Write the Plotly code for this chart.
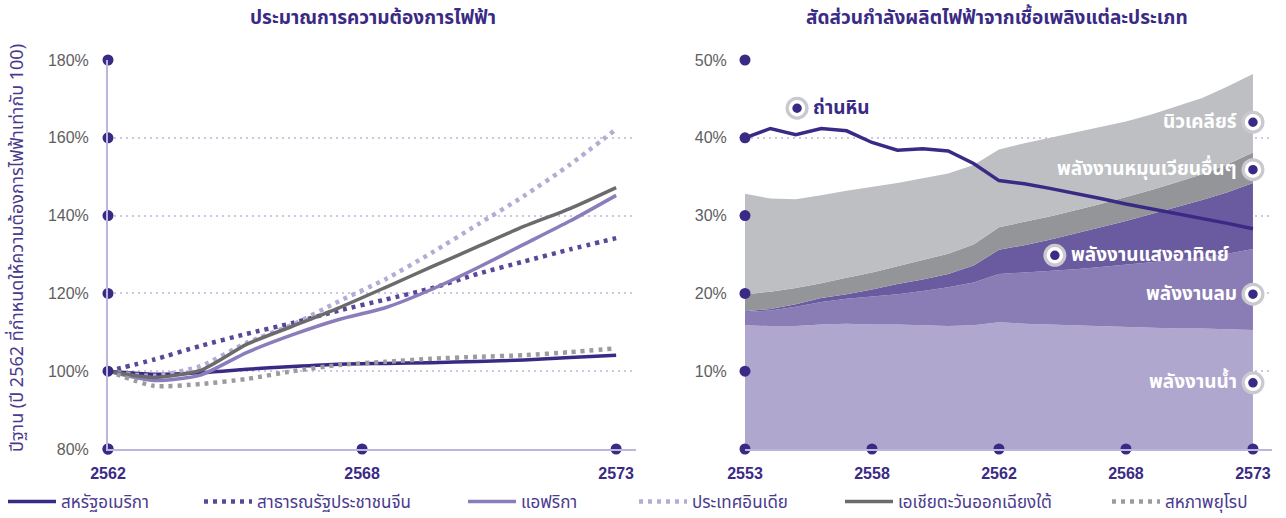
import numpy as np
import plotly.graph_objects as go

# ---------------- electricity demand outlook (index, base year 2562 = 100) ----------------
demand_years = list(range(2562, 2574))
demand_tick_labels = ["2562", "2568", "2573"]

usa = [100, 99.2, 99.6, 100.5, 101.2, 101.8, 102.0, 102.2, 102.5, 102.9, 103.5, 104.1]
china = [100, 103.0, 106.5, 109.6, 112.4, 115.6, 118.4, 121.3, 125.0, 128.2, 131.3, 134.2]
africa = [100, 97.6, 99.0, 104.8, 109.4, 113.3, 116.3, 121.0, 126.6, 132.6, 138.6, 145.2]
india = [100, 98.8, 101.3, 107.3, 112.0, 118.0, 123.6, 130.4, 137.7, 145.0, 153.1, 162.2]
se_asia = [100, 98.4, 100.2, 106.9, 111.6, 116.3, 121.5, 126.8, 132.0, 137.2, 141.8, 147.2]
europe = [100, 96.2, 96.7, 98.0, 100.0, 101.6, 102.4, 103.2, 103.7, 104.1, 104.9, 105.9]
demand_ticks = [80, 100, 120, 140, 160, 180]

# ---------------- generation capacity share by fuel (%) ----------------
share_years = list(range(2553, 2574))
share_tick_labels = ["2553", "2558", "2562", "2568", "2573"]

hydro = [15.9, 15.8, 15.8, 16.0, 16.1, 16.0, 16.0, 15.9, 15.8, 15.9, 16.3, 16.1, 16.0, 15.9, 15.8, 15.7, 15.6, 15.5, 15.5, 15.4, 15.3]
wind = [1.7, 2.0, 2.5, 2.9, 3.2, 3.6, 3.9, 4.4, 5.0, 5.5, 6.2, 6.6, 6.9, 7.2, 7.6, 8.0, 8.4, 8.8, 9.1, 9.7, 10.4]
solar = [0.1, 0.2, 0.3, 0.5, 0.6, 0.9, 1.3, 1.5, 1.7, 2.2, 3.1, 3.5, 4.0, 4.6, 5.1, 5.6, 6.2, 6.8, 7.4, 7.9, 8.5]
other_re = [2.2, 2.2, 2.1, 1.9, 2.1, 2.2, 2.3, 2.5, 2.6, 2.7, 2.9, 3.0, 3.0, 3.0, 3.0, 3.1, 3.1, 3.2, 3.3, 3.6, 3.9]
nuclear = [12.9, 12.0, 11.4, 11.3, 11.2, 11.0, 10.7, 10.5, 10.3, 10.2, 10.0, 10.1, 10.1, 10.0, 9.9, 9.7, 9.7, 9.7, 9.8, 10.0, 10.1]
coal = [40.0, 41.2, 40.4, 41.2, 40.9, 39.4, 38.4, 38.6, 38.3, 36.7, 34.5, 34.1, 33.5, 32.9, 32.2, 31.5, 30.9, 30.2, 29.6, 29.0, 28.3]
share_ticks = [0, 10, 20, 30, 40, 50]

# ---------------- styling ----------------
W, H = 1286, 518
DEEP = "#3b2a85"
AXIS = "#bdb6dc"
GRID = "#cdc7e4"
THAI = "Noto Sans Thai, Noto Sans Thai UI, Noto Sans, sans-serif"
NUM = "Liberation Sans, Arial, sans-serif"

fig = go.Figure()

# one small legend per series so that each entry sits at its own spot in the bottom row
legend_left_px = [3, 199, 463, 634, 840, 1107]

demand_series = [
    ("สหรัฐอเมริกา", usa, DEEP, "solid", 3.5),
    ("สาธารณรัฐประชาชนจีน", china, "#5b4799", "4px,5px", 4.5),
    ("แอฟริกา", africa, "#8b7dbb", "solid", 3.5),
    ("ประเทศอินเดีย", india, "#b5acd5", "4px,5px", 4.5),
    ("เอเชียตะวันออกเฉียงใต้", se_asia, "#6b6b6d", "solid", 3.5),
    ("สหภาพยุโรป", europe, "#9c9c9e", "4px,5px", 4.5),
]
legend_layouts = {}
for i, (name, vals, color, dash, width) in enumerate(demand_series):
    key = "legend" if i == 0 else f"legend{i + 1}"
    fig.add_trace(go.Scatter(
        x=demand_years, y=vals, name=name, mode="lines",
        line=dict(color=color, dash=dash, width=width, shape="spline", smoothing=0.6),
        xaxis="x", yaxis="y", hoverinfo="skip", legend=key,
    ))
    legend_layouts[key] = dict(
        orientation="h", x=legend_left_px[i] / W, xanchor="left", y=1 - 502 / H, yanchor="middle",
        font=dict(family=THAI, size=17, color="#4a3a8e"), itemwidth=48,
        bgcolor="rgba(0,0,0,0)", borderwidth=0,
    )

share_series = [
    ("พลังงานน้ำ", hydro, "#afa7ce"),
    ("พลังงานลม", wind, "#8a7cb5"),
    ("พลังงานแสงอาทิตย์", solar, "#6a5a9f"),
    ("พลังงานหมุนเวียนอื่นๆ", other_re, "#949599"),
    ("นิวเคลียร์", nuclear, "#bebfc3"),
]
for name, vals, color in share_series:
    fig.add_trace(go.Scatter(
        x=share_years, y=vals, name=name, mode="lines", stackgroup="share",
        line=dict(width=0, color=color), fillcolor=color,
        xaxis="x2", yaxis="y2", showlegend=False, hoverinfo="skip",
    ))

fig.add_trace(go.Scatter(
    x=share_years, y=coal, name="ถ่านหิน", mode="lines",
    line=dict(color=DEEP, width=3.5), xaxis="x2", yaxis="y2",
    showlegend=False, hoverinfo="skip",
))

# evenly spaced year ticks along each x axis
demand_tickvals = list(np.linspace(demand_years[0], demand_years[-1], len(demand_tick_labels)))
share_tickvals = list(np.linspace(share_years[0], share_years[-1], len(share_tick_labels)))

# dots sitting on the axes at every tick
dot = dict(color=DEEP, size=11)
fig.add_trace(go.Scatter(x=[demand_years[0]] * len(demand_ticks), y=demand_ticks, mode="markers",
                         marker=dot, xaxis="x", yaxis="y", showlegend=False, cliponaxis=False, hoverinfo="skip"))
fig.add_trace(go.Scatter(x=demand_tickvals, y=[demand_ticks[0]] * len(demand_tickvals), mode="markers",
                         marker=dot, xaxis="x", yaxis="y", showlegend=False, cliponaxis=False, hoverinfo="skip"))
fig.add_trace(go.Scatter(x=[share_years[0]] * (len(share_ticks) - 1), y=share_ticks[1:], mode="markers",
                         marker=dot, xaxis="x2", yaxis="y2", showlegend=False, cliponaxis=False, hoverinfo="skip"))
fig.add_trace(go.Scatter(x=share_tickvals, y=[0] * len(share_tickvals), mode="markers",
                         marker=dot, xaxis="x2", yaxis="y2", showlegend=False, cliponaxis=False, hoverinfo="skip"))

# series labels with button-style markers
labels_right = [
    ("นิวเคลียร์", 42.0),
    ("พลังงานหมุนเวียนอื่นๆ", 35.9),
    ("พลังงานลม", 19.9),
    ("พลังงานน้ำ", 8.5),
]
solar_label = (2565.2, 24.9)
coal_label = (2555.05, 43.8)
btn_x = [share_years[-1]] * len(labels_right) + [solar_label[0], coal_label[0]]
btn_y = [v for _, v in labels_right] + [solar_label[1], coal_label[1]]
fig.add_trace(go.Scatter(x=btn_x, y=btn_y, mode="markers",
                         marker=dict(size=23, color="#c9c9cf"), xaxis="x2", yaxis="y2",
                         showlegend=False, cliponaxis=False, hoverinfo="skip"))
fig.add_trace(go.Scatter(x=btn_x, y=btn_y, mode="markers",
                         marker=dict(size=13, color=DEEP, line=dict(color="white", width=3.5)),
                         xaxis="x2", yaxis="y2", showlegend=False, cliponaxis=False, hoverinfo="skip"))

annotations = []
for text, yv in labels_right:
    annotations.append(dict(x=share_years[-1], y=yv, xref="x2", yref="y2", text=f"<b>{text}</b>",
                            showarrow=False, xanchor="right", yanchor="middle", xshift=-14,
                            font=dict(family=THAI, size=19, color="white")))
annotations.append(dict(x=solar_label[0], y=solar_label[1], xref="x2", yref="y2",
                        text="<b>พลังงานแสงอาทิตย์</b>",
                        showarrow=False, xanchor="left", yanchor="middle", xshift=14,
                        font=dict(family=THAI, size=19, color="white")))
annotations.append(dict(x=coal_label[0], y=coal_label[1], xref="x2", yref="y2", text="<b>ถ่านหิน</b>",
                        showarrow=False, xanchor="left", yanchor="middle", xshift=14,
                        font=dict(family=THAI, size=19, color=DEEP)))
annotations.append(dict(x=373 / W, y=1 - 18 / H, xref="paper", yref="paper",
                        text="<b>ประมาณการความต้องการไฟฟ้า</b>",
                        showarrow=False, xanchor="center", yanchor="middle",
                        font=dict(family=THAI, size=19, color=DEEP)))
annotations.append(dict(x=997 / W, y=1 - 18 / H, xref="paper", yref="paper",
                        text="<b>สัดส่วนกำลังผลิตไฟฟ้าจากเชื้อเพลิงแต่ละประเภท</b>",
                        showarrow=False, xanchor="center", yanchor="middle",
                        font=dict(family=THAI, size=19, color=DEEP)))
annotations.append(dict(x=18 / W, y=1 - 248 / H, xref="paper", yref="paper",
                        text="ปีฐาน (ปี 2562 ที่กำหนดให้ความต้องการไฟฟ้าเท่ากับ 100)",
                        textangle=-90, showarrow=False, xanchor="center", yanchor="middle",
                        font=dict(family=THAI, size=18, color="#4a3a8e")))

ydom = [1 - 449 / H, 1 - 60 / H]
common_x = dict(showgrid=False, zeroline=False, showline=True, linecolor=AXIS, linewidth=2,
                ticks="outside", ticklen=9, tickcolor="rgba(0,0,0,0)",
                tickfont=dict(family=NUM, size=16, color=DEEP), tickmode="array")
common_y = dict(zeroline=False, showgrid=True, gridcolor=GRID, gridwidth=1.5, griddash="2px,4px",
                ticks="outside", ticklen=14, tickcolor="rgba(0,0,0,0)",
                tickfont=dict(family=NUM, size=16, color="#5e5e60"), tickmode="array")

fig.update_layout(
    width=W, height=H,
    margin=dict(l=0, r=0, t=0, b=0, autoexpand=False),
    paper_bgcolor="white", plot_bgcolor="white",
    font=dict(family=THAI),
    xaxis=dict(domain=[108 / W, 636 / W], range=[2562, 2573.43],
               tickvals=demand_tickvals, ticktext=[f"<b>{t}</b>" for t in demand_tick_labels], **common_x),
    yaxis=dict(domain=ydom, range=[80, 180], showline=True, linecolor=AXIS, linewidth=2,
               tickvals=demand_ticks, ticktext=[f"{v}%" for v in demand_ticks], **common_y),
    xaxis2=dict(domain=[745 / W, 1272 / W], range=[2553, 2573.75], anchor="y2",
                tickvals=share_tickvals, ticktext=[f"<b>{t}</b>" for t in share_tick_labels], **common_x),
    yaxis2=dict(domain=ydom, range=[0, 50], anchor="x2", showline=False,
                tickvals=share_ticks[1:], ticktext=[f"{v}%" for v in share_ticks[1:]], **common_y),
    annotations=annotations,
    showlegend=True,
    **legend_layouts,
)

fig.write_html("out.html")
